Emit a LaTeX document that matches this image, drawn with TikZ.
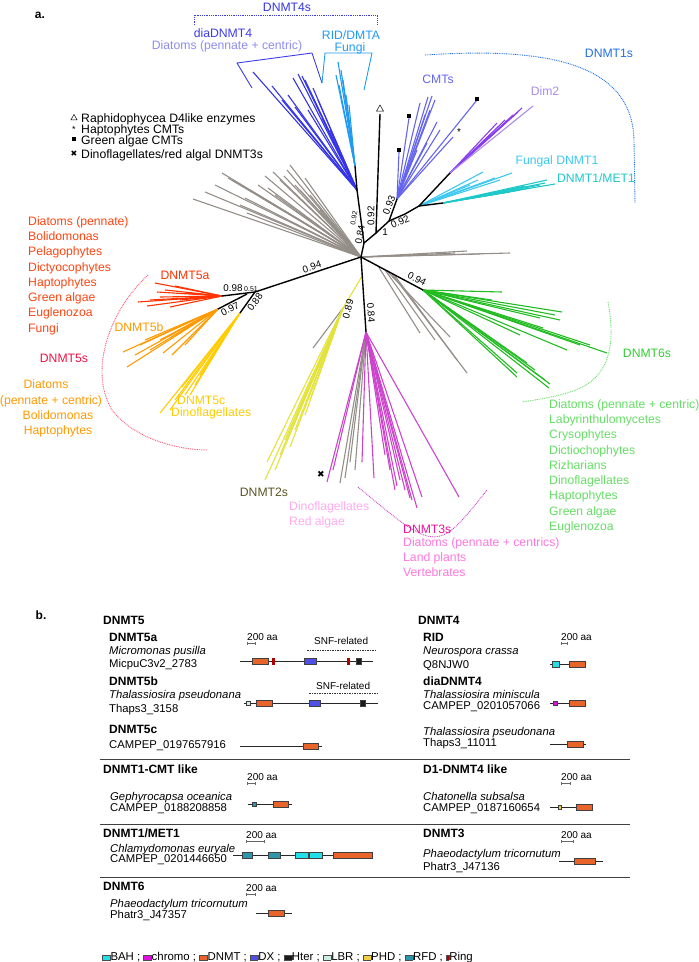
\documentclass[tikz,border=0pt]{standalone}
\usepackage{fontspec}
\setmainfont{Liberation Sans}
\newfontfamily\djv{DejaVu Sans}
\usetikzlibrary{shapes.geometric,arrows.meta,calc}
\definecolor{cD4}{HTML}{3B3BEA}
\definecolor{cD4t}{HTML}{3434E6}
\definecolor{cD4L}{HTML}{8C8CF0}
\definecolor{cRID}{HTML}{1E9BF0}
\definecolor{cCMT}{HTML}{6464EE}
\definecolor{cDim}{HTML}{8A3CF0}
\definecolor{cDimL}{HTML}{A98BF0}
\definecolor{cFun}{HTML}{3CC8F0}
\definecolor{cMET}{HTML}{1EC8C8}
\definecolor{cD1s}{HTML}{1F6FE8}
\definecolor{cGray}{HTML}{948E88}
\definecolor{cD6}{HTML}{22BB22}
\definecolor{cD6L}{HTML}{66DD66}
\definecolor{cD6s}{HTML}{33CC33}
\definecolor{cD3}{HTML}{CC44CC}
\definecolor{cD3s}{HTML}{EE1199}
\definecolor{cD3L}{HTML}{FF77DD}
\definecolor{cPinkL}{HTML}{FFAAEE}
\definecolor{cD2}{HTML}{E2E23A}
\definecolor{cD2s}{HTML}{555522}
\definecolor{cD5a}{HTML}{FF3300}
\definecolor{cD5aL}{HTML}{FF4411}
\definecolor{cD5b}{HTML}{FF9900}
\definecolor{cD5c}{HTML}{FFCC00}
\definecolor{cD5s}{HTML}{EE1144}
\definecolor{cArc5}{HTML}{FF5577}
\definecolor{dBAH}{HTML}{22E0E8}
\definecolor{dChromo}{HTML}{E010E0}
\definecolor{dDNMT}{HTML}{E8642A}
\definecolor{dDX}{HTML}{5050E8}
\definecolor{dHter}{HTML}{1A1A1A}
\definecolor{dLBR}{HTML}{CCEEE4}
\definecolor{dPHD}{HTML}{F2D040}
\definecolor{dRFD}{HTML}{2E95AA}
\definecolor{dRing}{HTML}{B00000}
\setlength{\fboxsep}{0pt}
\setlength{\fboxrule}{0.4pt}
\newcommand\lgb[2][7.5pt]{\fcolorbox{black!70}{#2}{\rule{0pt}{4.8pt}\rule{#1}{0pt}}}
\begin{document}
\begin{tikzpicture}[x=1pt,y=-1pt,
  br/.style={line width=1.4pt, black},
  fan/.style={line width=1.1pt},
  dots/.style={line width=0.9pt, dash pattern=on 0.9pt off 0.9pt},
  L/.style={inner sep=0pt, anchor=base west, yshift=-4.4pt, font=\fontsize{12.2}{14}\selectfont},
  LC/.style={inner sep=0pt, anchor=base, yshift=-4.4pt, font=\fontsize{12.2}{14}\selectfont},
  num/.style={inner sep=0pt, font=\fontsize{9.8}{11}\selectfont},
  snum/.style={inner sep=0pt, font=\fontsize{7}{8}\selectfont},
  hd/.style={inner sep=0pt, anchor=base west, yshift=-4.3pt, font=\fontsize{12}{14}\selectfont\bfseries},
  sp/.style={inner sep=0pt, anchor=base west, yshift=-4pt, font=\fontsize{11.3}{13}\selectfont\itshape},
  idt/.style={inner sep=0pt, anchor=base west, yshift=-4pt, font=\fontsize{11.3}{13}\selectfont},
  sm/.style={inner sep=0pt, anchor=base west, yshift=-3.6pt, font=\fontsize{10}{12}\selectfont},
  prot/.style={line width=0.6pt, black!85},
  dom/.style={draw=black!75, line width=0.4pt, inner sep=0pt, minimum height=5.5pt},
  sbar/.style={line width=0.5pt, black!60, {Bar[width=2.5pt]}-{Bar[width=2.5pt]}},
  sepl/.style={line width=0.9pt, black!75},
  snf/.style={line width=0.7pt, black!80, dash pattern=on 1.5pt off 1pt},
]
\useasboundingbox (0,0) rectangle (699,962);
% ---------------- tree coordinates
\coordinate (R) at (361,257);
\coordinate (A) at (364,243);
\coordinate (K) at (357,190);
\coordinate (D4r) at (355,166);
\coordinate (C) at (376,233);
\coordinate (Rt) at (380,114);
\coordinate (E) at (389,221);
\coordinate (CM) at (397,199);
\coordinate (F) at (405,214);
\coordinate (G) at (419,206);
\coordinate (DM) at (450,173);
\coordinate (T) at (443,203);
\coordinate (H) at (423,290);
\coordinate (M) at (366,332);
\coordinate (Yb) at ($(R)!0.25!(M)$);
\coordinate (Y) at (343,308);
\coordinate (P) at (255,292);
\coordinate (P1) at (247,294);
\coordinate (P5a) at (222,296);
\coordinate (P5b) at (218,309);
\coordinate (P5c) at (240,313);
% gray clusters
\foreach \p in {(193,199),(222,173),(228,178),(233,180),(247,213),(240,205),(250,190),(258,185),(265,176),(273,172),(280,180),(284,176),(290,165),(295,185),(300,190),(305,178),(310,195),(262,198),(215,185),(275,195),(320,210),(245,198),(205,192),(268,188),(287,170)}
  \draw[fan,cGray] (R) -- \p;
\foreach \p in {(510,253),(467,251),(480,254),(455,253)}
  \draw[fan,cGray] (R) -- \p;
\draw[fan,cGray] (378,266) -- (420,333);
\draw[fan,cGray] (385,270) -- (435,340);
\draw[fan,cGray] (388,272) -- (450,337);
\draw[fan,cGray] (392,274) -- (467,373);
\draw[fan,cGray] (395,276) -- (457,360);
% DNMT4
\foreach \p in {(253,72),(272,86),(282,100),(293,78),(298,74),(302,76),(305,80),(313,88),(295,107),(308,110),(318,100),(322,118),(288,95),(330,130)}
  \draw[fan,cD4t] (K) -- \p;
\foreach \p in {(338,62),(341,70),(343,80),(339,85),(346,95),(336,75),(349,105)}
  \draw[fan,cRID] (D4r) -- \p;
% CMT
\foreach \p in {(428,97),(432,96),(435,100),(420,103),(437,122),(425,115),(430,110),(417,150),(427,143),(409,118),(399,152),(477,100),(453,137),(440,130)}
  \draw[fan,cCMT] (CM) -- \p;
% Dim2
\foreach \p in {(522,108),(497,123),(513,115),(505,120),(490,135),(518,112),(500,128)}
  \draw[fan,cDim] (DM) -- \p;
\draw[fan,cDimL] (DM) -- (533,106);
% Fungal DNMT1
\foreach \p in {(483,172),(512,173),(495,178),(470,185),(500,180),(478,180)}
  \draw[fan,cFun] (G) -- \p;
% DNMT1/MET1
\foreach \p in {(547,180),(555,184),(540,185),(530,188),(520,190),(545,183),(510,192),(525,186)}
  \draw[fan,cMET] (T) -- \p;
% DNMT6
\foreach \p in {(502,292),(492,300),(562,312),(555,315),(543,328),(567,350),(607,353),(580,345),(517,377),(527,363),(550,384),(549,388),(517,373),(545,380),(535,370),(590,345),(560,320),(540,318),(520,335)}
  \draw[fan,cD6] (H) -- \p;
% DNMT3
\foreach \p in {(340,483),(345,478),(350,462),(355,470)}
  \draw[fan,cGray] (M) -- \p;
\foreach \p in {(327,482),(333,470),(362,462),(374,478),(397,486),(410,498),(417,508),(422,497),(459,497),(405,490),(390,470),(400,480),(385,455),(412,500),(395,490)}
  \draw[fan,cD3] (M) -- \p;
% DNMT2
\draw[fan,cD2] (Yb) -- (Y);
\draw[fan,cGray] (Y) -- (313,348);
\foreach \p in {(265,480),(267,462),(290,447),(300,410),(285,440),(275,470),(310,400),(295,430),(305,415),(280,455)}
  \draw[fan,cD2] (Y) -- \p;
% DNMT5
\foreach \p in {(138,302),(147,306),(157,292),(155,283),(170,307),(165,290),(180,300),(190,297),(175,286),(160,297),(150,300),(185,293)}
  \draw[fan,cD5a] (P5a) -- \p;
\foreach \p in {(123,352),(127,367),(163,353),(172,355),(180,332),(145,340),(150,350),(140,345),(160,340),(185,345),(135,355),(170,338)}
  \draw[fan,cD5b] (P5b) -- \p;
\foreach \p in {(160,413),(170,410),(182,387),(190,395),(175,400),(195,385),(200,375),(185,395)}
  \draw[fan,cD5c] (P5c) -- \p;
% black backbone
\draw[br] (R) -- (A) -- (K) -- (D4r);
\draw[br] (A) -- (C) -- (Rt);
\draw[br] (C) -- (E) -- (CM);
\draw[br] (E) -- (F) -- (G) -- (DM);
\draw[br] (G) -- (T);
\draw[br] (R) -- (H);
\draw[br] (R) -- (M);
\draw[br] (R) -- (P) -- (P5a);
\draw[br] (P1) -- (P5b);
\draw[br] (P) -- (P5c);
% markers
\node[draw, regular polygon, regular polygon sides=3, minimum size=8pt, inner sep=0pt, line width=0.5pt] (tri) at (380,109) {};
\node[fill=black, minimum size=4.5pt, inner sep=0pt] (sq1) at (409,116) {};
\node[fill=black, minimum size=4.5pt, inner sep=0pt] (sq2) at (399,150) {};
\node[fill=black, minimum size=4.5pt, inner sep=0pt] (sq3) at (477,99) {};
\node[inner sep=0pt, font=\fontsize{10}{10}\selectfont] (star) at (459,132) {*};
\node[inner sep=0pt, font=\djv\fontsize{9}{9}\selectfont] (xm) at (321,474) {✖};
% support values
\node[num, rotate=18] (n1) at (312,267) {0.94};
\node[num] (n2) at (233,288) {0.98};
\node[snum] (n3) at (251,289) {0.51};
\node[num, rotate=27] (n4) at (230,309) {0.97};
\node[num, rotate=54] (n5) at (255,302) {0.88};
\node[num, rotate=80] (n6) at (360,235) {0.84};
\node[snum, rotate=80] (n7) at (354,218) {0.92};
\node[num, rotate=90] (n8) at (371,216) {0.92};
\node[num, rotate=68] (n9) at (389,205) {0.93};
\node[num] (n10) at (385,232) {1};
\node[num, rotate=23] (n11) at (400,222) {0.92};
\node[num, rotate=-28] (n12) at (417,279) {0.94};
\node[num, rotate=-85] (n13) at (371,313) {0.84};
\node[num, rotate=75] (n14) at (348,309) {0.89};
% group arcs and brackets
\draw[dots, cD4] (194,25) -- (194,15) -- (377,15) -- (377,25);
\draw[line width=0.9pt, cD4] (252,88) -- (237,63) -- (312,53) -- (322,83);
\draw[line width=0.9pt, cRID] (322,83) -- (325,53) -- (372,53) -- (364,90);
\draw[dots, cD1s] (425,55) .. controls (545,47) and (632,62) .. (634,140) -- (635,203);
\draw[dots, cD6L] (608,302) .. controls (616,345) and (610,380) .. (570,392) .. controls (550,398) and (535,400) .. (522,402);
\draw[dots, cD3] (358,487) .. controls (437,553) .. (487,490);
\draw[dots, cArc5] (148,275) .. controls (110,310) and (88,370) .. (112,410) .. controls (135,440) and (180,450) .. (207,450);
% labels panel a
\node[inner sep=0pt, font=\fontsize{12}{14}\selectfont\bfseries] (la) at (40,15) {a.};
\node[LC, cD4t] (t1) at (287,7) {DNMT4s};
\node[LC, cD4] (t2) at (223,33) {diaDNMT4};
\node[LC, cD4L] (t3) at (227,45) {Diatoms (pennate + centric)};
\node[LC, cRID] (t4) at (351,35) {RID/DMTA};
\node[LC, cRID] (t5) at (350,47) {Fungi};
\node[LC, cCMT] (t6) at (438,79) {CMTs};
\node[LC, cDimL] (t7) at (545,91) {Dim2};
\node[LC, cFun] (t8) at (557,160) {Fungal DNMT1};
\node[LC, cMET] (t9) at (596,178) {DNMT1/MET1};
\node[LC, cD1s] (t10) at (609,53) {DNMT1s};
\node[LC, cD6s] (t11) at (647,353) {DNMT6s};
\node[L, cD3s] (t12) at (403,529) {DNMT3s};
\node[L, cPinkL] (t13) at (289,506) {Dinoflagellates};
\node[L, cPinkL] (t14) at (289,521) {Red algae};
\node[LC, cD2s] (t15) at (264,492) {DNMT2s};
\node[LC, cD5a] (t16) at (185,275) {DNMT5a};
\node[LC, cD5b] (t17) at (139,327) {DNMT5b};
\node[LC, cD5s] (t18) at (64,358) {DNMT5s};
\node[L, cD5c] (t19) at (177,400) {DNMT5c};
\node[L, cD5c] (t20) at (171,412) {Dinoflagellates};
\node[LC, cD5b] (t21) at (46,384) {Diatoms};
\node[LC, cD5b] (t22) at (51,400) {(pennate + centric)};
\node[LC, cD5b] (t23) at (58,415) {Bolidomonas};
\node[LC, cD5b] (t24) at (58,430) {Haptophytes};
\foreach \t [count=\i] in {Diatoms (pennate),Bolidomonas,Pelagophytes,Dictyocophytes,Haptophytes,Green algae,Euglenozoa,Fungi}
  \node[L, cD5aL] (r\i) at (28,{221+15.25*(\i-1)}) {\t};
\foreach \t [count=\i] in {Diatoms (pennate + centric),Labyrinthulomycetes,Crysophytes,Dictiochophytes,Rizharians,Dinoflagellates,Haptophytes,Green algae,Euglenozoa}
  \node[L, cD6L] (g\i) at (549,{404+15.25*(\i-1)}) {\t};
\foreach \t [count=\i] in {Diatoms (pennate + centrics),Land plants,Vertebrates}
  \node[L, cD3L] (m\i) at (403,{542+15*(\i-1)}) {\t};
% legend a
\node[draw, regular polygon, regular polygon sides=3, minimum size=7pt, inner sep=0pt, line width=0.5pt] (lg1) at (74,118) {};
\node[inner sep=0pt, font=\fontsize{9}{9}\selectfont] (lg2) at (74,129) {*};
\node[fill=black, minimum size=4.5pt, inner sep=0pt] (lg3) at (74,139) {};
\node[inner sep=0pt, font=\djv\fontsize{8}{8}\selectfont] (lg4) at (74,154) {✖};
\node[L] (lt1) at (81,118) {Raphidophycea D4like enzymes};
\node[L] (lt2) at (81,129) {Haptophytes CMTs};
\node[L] (lt3) at (81,140) {Green algae CMTs};
\node[L] (lt4) at (81,154) {Dinoflagellates/red algal DNMT3s};
% ---------------- panel b
\node[inner sep=0pt, font=\fontsize{12}{14}\selectfont\bfseries] (lb) at (41,615) {b.};
\node[hd] (h1) at (103,620) {DNMT5};
\node[hd] (h2) at (109,637) {DNMT5a};
\node[sp] at (109,650) {Micromonas pusilla};
\node[idt] at (109,663) {MicpuC3v2\_2783};
\node[hd] (h3) at (109,681) {DNMT5b};
\node[sp] at (109,694) {Thalassiosira pseudonana};
\node[idt] at (109,708) {Thaps3\_3158};
\node[hd] (h4) at (109,729) {DNMT5c};
\node[idt] at (109,744) {CAMPEP\_0197657916};
\node[hd] (h5) at (103,769) {DNMT1-CMT like};
\node[sp] at (110,796) {Gephyrocapsa oceanica};
\node[idt] at (110,807) {CAMPEP\_0188208858};
\node[hd] (h6) at (103,833) {DNMT1/MET1};
\node[sp] at (110,848) {Chlamydomonas euryale};
\node[idt] at (110,858) {CAMPEP\_0201446650};
\node[hd] (h7) at (103,886) {DNMT6};
\node[sp] at (110,903) {Phaeodactylum tricornutum};
\node[idt] at (110,914) {Phatr3\_J47357};
\node[hd] (h8) at (418,620) {DNMT4};
\node[hd] (h9) at (423,637) {RID};
\node[sp] at (423,650) {Neurospora crassa};
\node[idt] at (423,664) {Q8NJW0};
\node[hd] (h10) at (423,681) {diaDNMT4};
\node[sp] at (423,694) {Thalassiosira miniscula};
\node[idt] at (423,705) {CAMPEP\_0201057066};
\node[sp] at (423,731) {Thalassiosira pseudonana};
\node[idt] at (423,742) {Thaps3\_11011};
\node[hd] (h11) at (423,769) {D1-DNMT4 like};
\node[sp] at (423,796) {Chatonella subsalsa};
\node[idt] at (423,807) {CAMPEP\_0187160654};
\node[hd] (h12) at (423,833) {DNMT3};
\node[sp] at (423,853) {Phaeodactylum tricornutum};
\node[idt] at (423,866) {Phatr3\_J47136};
% separators
\draw[sepl] (100,759) -- (630,759);
\draw[sepl] (100,824) -- (630,824);
\draw[sepl] (100,877) -- (630,877);
% scale bars
\foreach \x/\y/\w in {247/637/8,247/777/8,246/835/18,246/888/9,561/637/6,561/777/9,561/835/12} {
  \node[sm] at (\x,\y) {200 aa};
  \draw[sbar] (\x,\y+6.5) -- (\x+\w,\y+6.5);
}
% SNF-related
\node[sm] (snf1) at (314,641) {SNF-related};
\draw[snf] (307,650) -- (376,650);
\node[sm] (snf2) at (316,686) {SNF-related};
\draw[snf] (309,693) -- (378,693);
% protein rows
\draw[prot] (240,661) -- (373,661);
\node[dom, fill=dDNMT, minimum width=16pt] (a1) at (260,661) {};
\node[dom, fill=dRing, draw=dRing, minimum width=2pt, minimum height=6pt] (a2) at (273,661) {};
\node[dom, fill=dDX, minimum width=12pt] (a3) at (310,661) {};
\node[dom, fill=dRing, draw=dRing, minimum width=2pt, minimum height=6pt] (a4) at (348,661) {};
\node[dom, fill=dHter, minimum width=5pt, minimum height=6pt] (a5) at (358.5,661) {};
\draw[prot] (244,703) -- (378,703);
\node[dom, fill=dLBR, minimum width=4pt, minimum height=4.5pt] (b1) at (248,703) {};
\node[dom, fill=dDNMT, minimum width=16pt] (b2) at (264,703) {};
\node[dom, fill=dDX, minimum width=11pt] (b3) at (314.5,703) {};
\node[dom, fill=dHter, minimum width=5pt, minimum height=6pt] (b4) at (362.5,703) {};
\draw[prot] (240,746) -- (322,746);
\node[dom, fill=dDNMT, minimum width=15pt] (c1) at (310.5,746) {};
\draw[prot] (248,804) -- (292,804);
\node[dom, fill=dRFD, minimum width=4pt, minimum height=4.5pt] (d1) at (254,804) {};
\node[dom, fill=dDNMT, minimum width=15pt] (d2) at (280.5,804) {};
\draw[prot] (233,855) -- (373,855);
\node[dom, fill=dRFD, minimum width=10pt] (e1) at (247,855) {};
\node[dom, fill=dRFD, minimum width=12pt] (e2) at (274,855) {};
\node[dom, fill=dBAH, minimum width=13pt] (e3) at (301.5,855) {};
\node[dom, fill=dBAH, minimum width=13pt] (e4) at (315.5,855) {};
\node[dom, fill=dDNMT, minimum width=39pt] (e5) at (352.5,855) {};
\draw[prot] (256,913) -- (292,913);
\node[dom, fill=dDNMT, minimum width=16pt] (f1) at (276,913) {};
\draw[prot] (550,664) -- (585,664);
\node[dom, fill=dBAH, minimum width=7pt] (g1) at (555.5,664) {};
\node[dom, fill=dDNMT, minimum width=16pt] (g2) at (577,664) {};
\draw[prot] (550,703) -- (585,703);
\node[dom, fill=dChromo, minimum width=4pt, minimum height=4.5pt] (k1) at (555,703) {};
\node[dom, fill=dDNMT, minimum width=16pt] (k2) at (577,703) {};
\draw[prot] (550,744) -- (586,744);
\node[dom, fill=dDNMT, minimum width=16pt] (k3) at (575,744) {};
\draw[prot] (550,807) -- (592,807);
\node[dom, fill=dPHD, minimum width=3.5pt, minimum height=4.5pt] (p1) at (559.5,807) {};
\node[dom, fill=dDNMT, minimum width=16pt] (p2) at (584,807) {};
\draw[prot] (559,861) -- (603,861);
\node[dom, fill=dDNMT, minimum width=21pt, minimum height=6pt] (q1) at (584.5,861) {};
% bottom legend
\node[inner sep=0pt, anchor=base west, font=\fontsize{11.4}{13}\selectfont] (leg) at (102,960)
  {\lgb{dBAH}BAH ; \lgb{dChromo}chromo ; \lgb{dDNMT}DNMT ; \lgb{dDX}DX ; \lgb{dHter}Hter ; \lgb{dLBR}LBR ; \lgb{dPHD}PHD ; \lgb{dRFD}RFD ; \lgb[2.5pt]{dRing}Ring};
\end{tikzpicture}
\end{document}
